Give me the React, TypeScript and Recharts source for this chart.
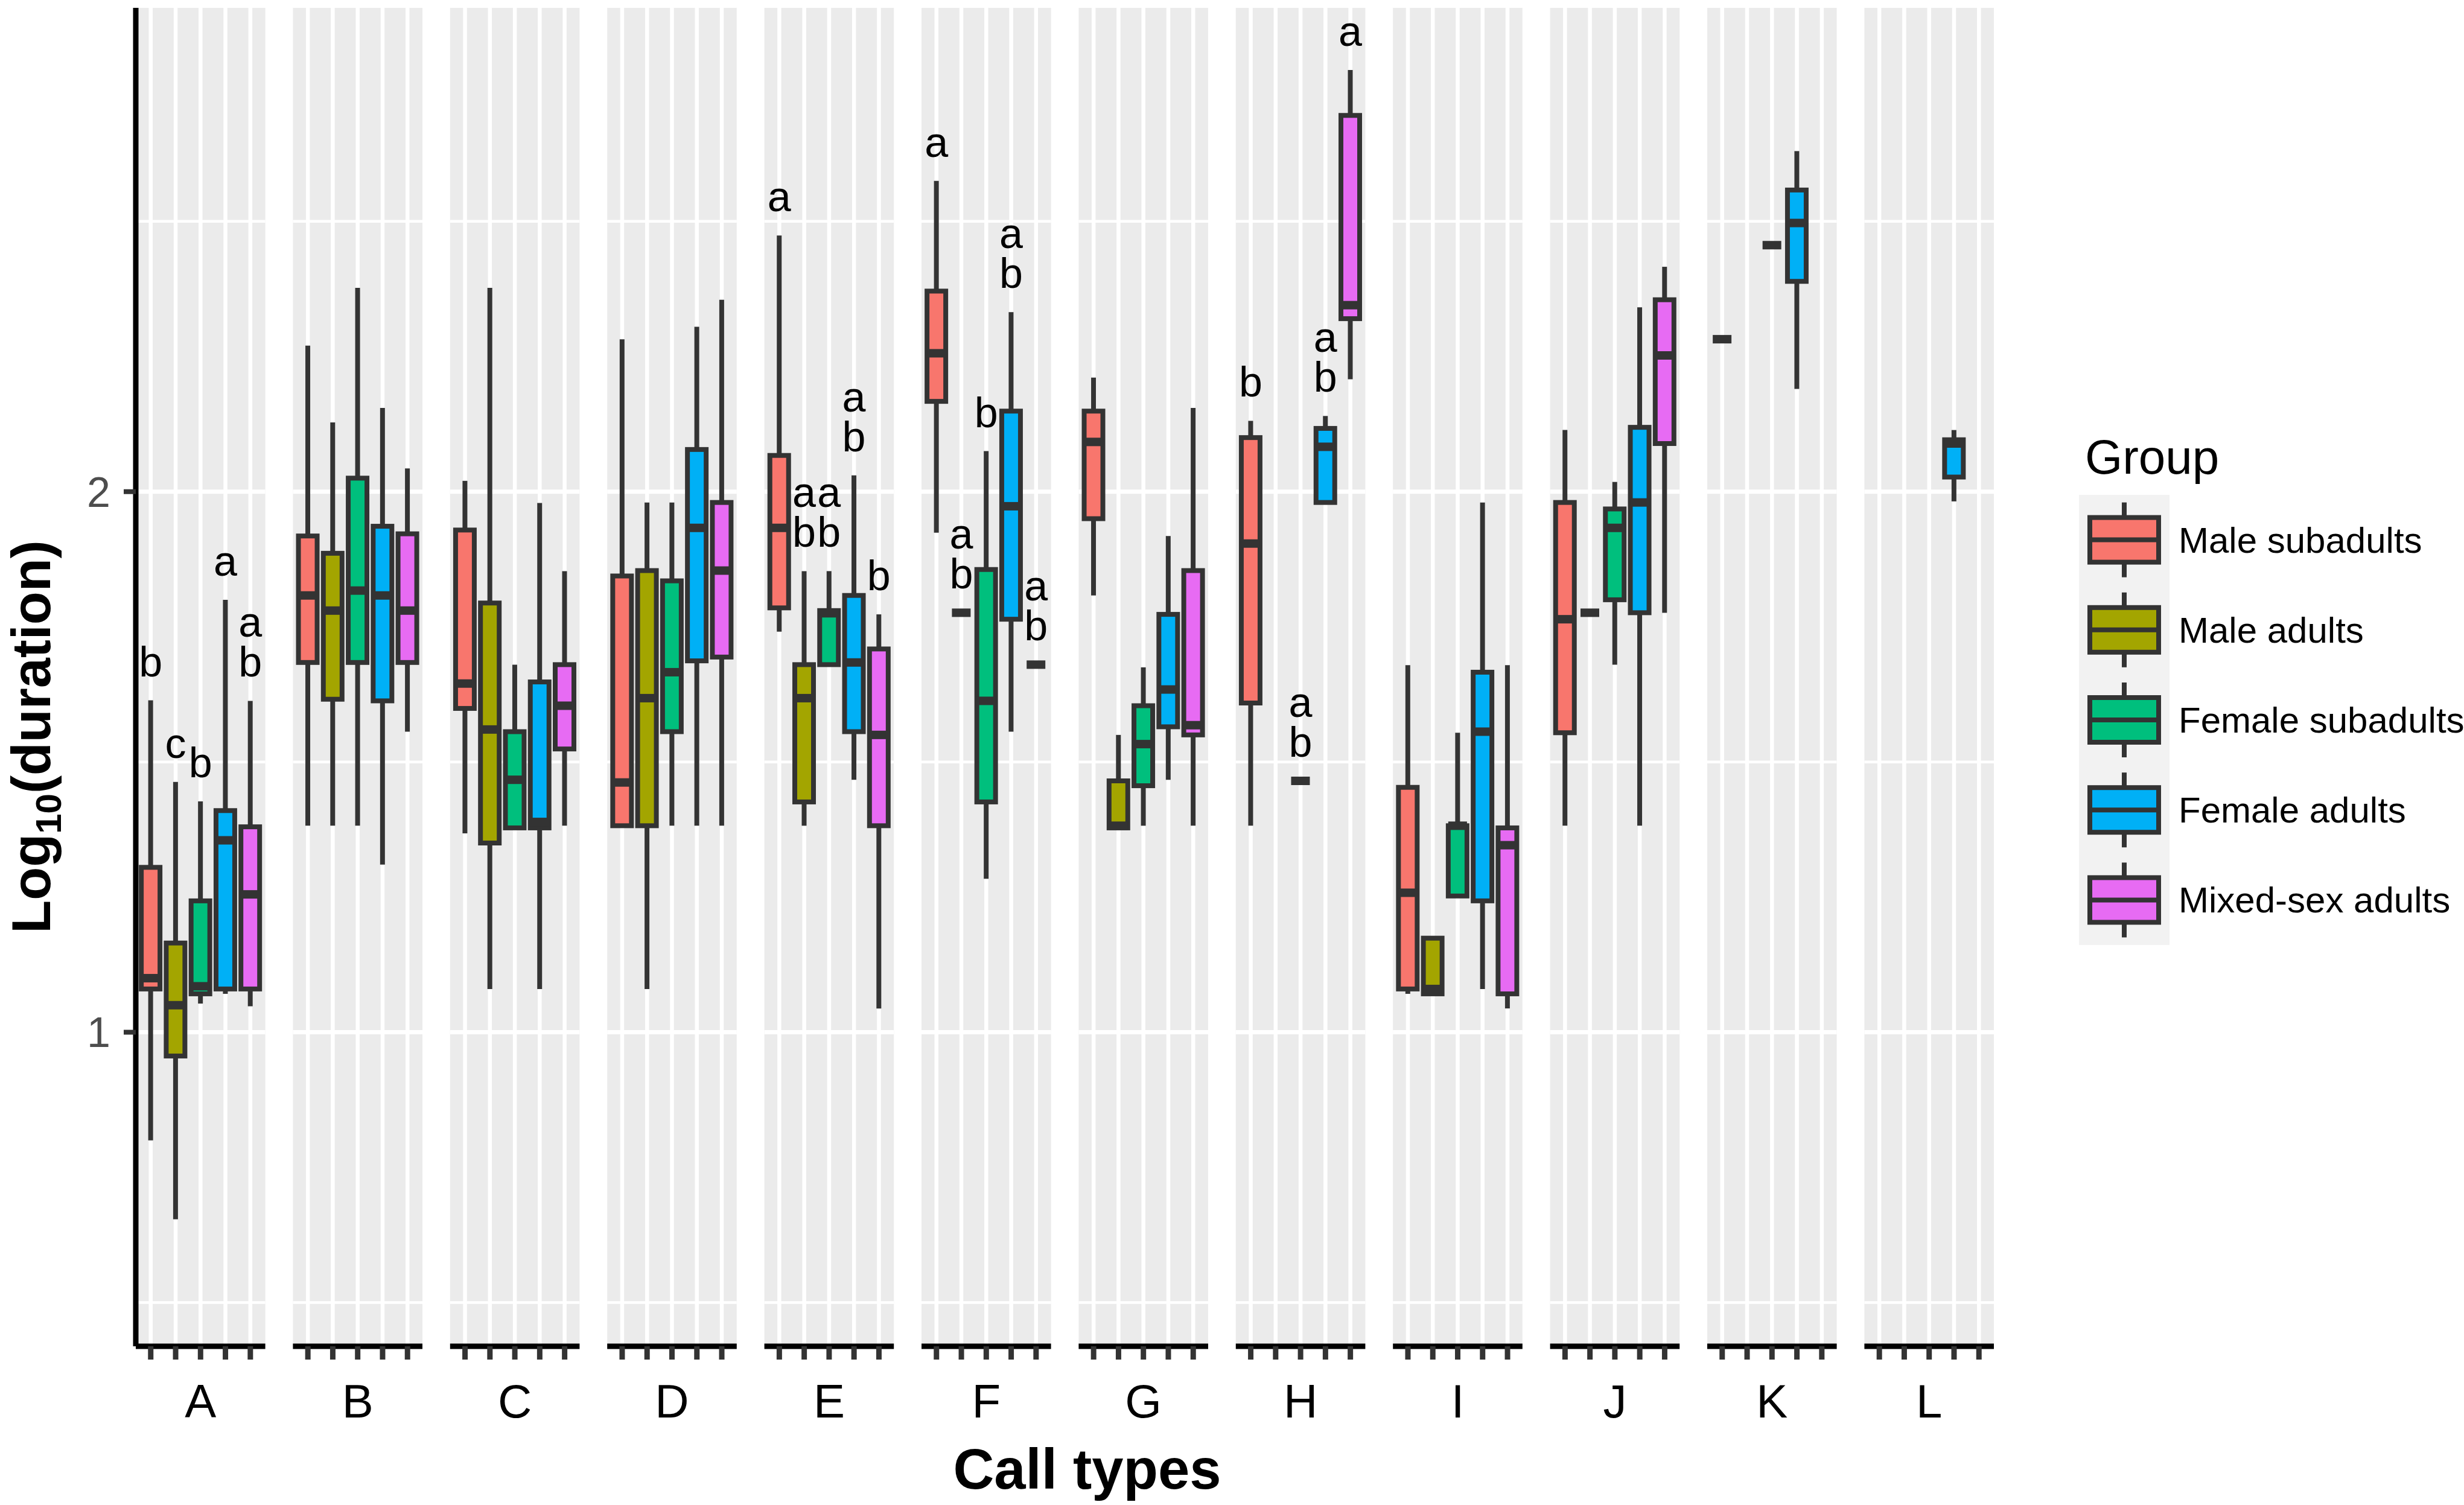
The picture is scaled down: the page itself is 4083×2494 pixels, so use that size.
import React from "react";
import { ComposedChart, Bar, XAxis, YAxis, ReferenceArea, ReferenceLine, LabelList } from "recharts";

const CALL_TYPES = ["A", "B", "C", "D", "E", "F", "G", "H", "I", "J", "K", "L"];
const GROUPS = ["Male subadults", "Male adults", "Female subadults", "Female adults", "Mixed-sex adults"];
const GROUP_COLORS = ["#F8766D", "#A3A500", "#00BF7D", "#00B0F6", "#E76BF3"];

// rows = call types, columns = groups (null: group not recorded for that call)
const WHISKER_LOW = [
  [0.8, 0.654, 1.053, 1.071, 1.048],
  [1.382, 1.382, 1.382, 1.31, 1.556],
  [1.368, 1.08, 1.378, 1.08, 1.382],
  [1.382, 1.08, 1.382, 1.382, 1.382],
  [1.741, 1.382, 1.68, 1.467, 1.044],
  [1.924, 1.776, 1.284, 1.556, 1.68],
  [1.808, 1.378, 1.382, 1.467, 1.382],
  [1.382, null, 1.465, 1.98, 2.208],
  [1.071, 1.071, 1.252, 1.08, 1.044],
  [1.382, 1.776, 1.68, 1.382, 1.776],
  [2.282, null, 2.456, 2.19, null],
  [null, null, null, 1.982, null],
];
const Q1 = [
  [1.08, 0.956, 1.071, 1.08, 1.08],
  [1.684, 1.616, 1.684, 1.613, 1.684],
  [1.599, 1.35, 1.378, 1.378, 1.524],
  [1.382, 1.382, 1.556, 1.687, 1.694],
  [1.785, 1.426, 1.68, 1.556, 1.382],
  [2.167, 1.776, 1.426, 1.764, 1.68],
  [1.95, 1.378, 1.456, 1.565, 1.55],
  [1.609, null, 1.465, 1.98, 2.32],
  [1.08, 1.071, 1.252, 1.243, 1.071],
  [1.554, 1.776, 1.8, 1.776, 2.089],
  [2.282, null, 2.456, 2.389, null],
  [null, null, null, 2.027, null],
];
const MEDIAN = [
  [1.1, 1.05, 1.085, 1.355, 1.255],
  [1.808, 1.78, 1.817, 1.808, 1.78],
  [1.645, 1.56, 1.467, 1.389, 1.604],
  [1.462, 1.618, 1.666, 1.933, 1.854],
  [1.933, 1.618, 1.775, 1.684, 1.55],
  [2.256, 1.776, 1.613, 1.973, 1.68],
  [2.092, 1.382, 1.533, 1.634, 1.568],
  [1.904, null, 1.465, 2.083, 2.345],
  [1.258, 1.08, 1.382, 1.556, 1.346],
  [1.764, 1.776, 1.933, 1.98, 2.252],
  [2.282, null, 2.456, 2.497, null],
  [null, null, null, 2.089, null],
];
const Q3 = [
  [1.305, 1.165, 1.243, 1.41, 1.38],
  [1.918, 1.886, 2.025, 1.936, 1.922],
  [1.929, 1.794, 1.556, 1.648, 1.68],
  [1.844, 1.854, 1.835, 2.078, 1.98],
  [2.067, 1.68, 1.78, 1.808, 1.709],
  [2.371, 1.776, 1.856, 2.149, 1.68],
  [2.149, 1.465, 1.604, 1.773, 1.854],
  [2.1, null, 1.465, 2.117, 2.696],
  [1.453, 1.174, 1.382, 1.666, 1.378],
  [1.98, 1.776, 1.968, 2.119, 2.355],
  [2.282, null, 2.456, 2.558, null],
  [null, null, null, 2.096, null],
];
const WHISKER_HIGH = [
  [1.614, 1.463, 1.427, 1.8, 1.613],
  [2.27, 2.128, 2.377, 2.155, 2.043],
  [2.02, 2.377, 1.68, 1.979, 1.853],
  [2.282, 1.98, 1.98, 2.305, 2.355],
  [2.474, 1.853, 1.853, 2.03, 1.773],
  [2.575, 1.776, 2.075, 2.332, 1.68],
  [2.211, 1.55, 1.675, 1.918, 2.155],
  [2.131, null, 1.465, 2.14, 2.78],
  [1.679, 1.174, 1.554, 1.98, 1.679],
  [2.114, 1.776, 2.018, 2.341, 2.416],
  [2.282, null, 2.456, 2.63, null],
  [null, null, null, 2.114, null],
];
// significance letters drawn above the whiskers
const LETTERS = [
  ["b", "c", "b", "a", "ab"],
  ["", "", "", "", ""],
  ["", "", "", "", ""],
  ["", "", "", "", ""],
  ["a", "ab", "ab", "ab", "b"],
  ["a", "ab", "b", "ab", "ab"],
  ["", "", "", "", ""],
  ["b", "", "ab", "ab", "a"],
  ["", "", "", "", ""],
  ["", "", "", "", ""],
  ["", "", "", "", ""],
  ["", "", "", "", ""],
];

const Y_DOMAIN = [0.419, 2.895];
const Y_TICKS = [1, 2];
const Y_MINOR = [0.5, 1.5, 2.5];

const FONT = "'Liberation Sans', Arial, Helvetica, sans-serif";
const STEP = 6.31; // distance between facet origins, in box slots
const X_DOMAIN = [-0.6, (CALL_TYPES.length - 1) * STEP + 4.6];
const INK = "#333333";

const rows = [];
CALL_TYPES.forEach((call, i) => {
  GROUPS.forEach((_, j) => {
    if (MEDIAN[i][j] == null) return;
    rows.push({
      pos: i * STEP + j,
      call,
      group: j,
      wl: WHISKER_LOW[i][j],
      q1: Q1[i][j],
      med: MEDIAN[i][j],
      q3: Q3[i][j],
      wh: WHISKER_HIGH[i][j],
      range: [WHISKER_LOW[i][j], WHISKER_HIGH[i][j]],
      sig: LETTERS[i][j] || undefined,
    });
  });
});
const slotTicks = CALL_TYPES.flatMap((_, i) => GROUPS.map((__, j) => i * STEP + j));

function BoxShape(props) {
  const { x, y, width, height } = props;
  const d = props.payload ?? props;
  if (d == null || d.wl == null) return null;
  const top = Math.min(y, y + height);
  const bottom = Math.max(y, y + height);
  const span = d.wh - d.wl;
  const px = (v) => (span > 0 ? bottom - ((v - d.wl) / span) * (bottom - top) : (top + bottom) / 2);
  const cx = x + width / 2;
  const yq3 = px(d.q3);
  const yq1 = px(d.q1);
  const ym = px(d.med);
  return (
    <g>
      <line x1={cx} x2={cx} y1={px(d.wh)} y2={yq3} stroke={INK} strokeWidth={8} />
      <line x1={cx} x2={cx} y1={yq1} y2={px(d.wl)} stroke={INK} strokeWidth={8} />
      <rect x={x} y={yq3} width={width} height={Math.max(0, yq1 - yq3)} fill={GROUP_COLORS[d.group]} stroke={INK} strokeWidth={8} />
      <line x1={x} x2={x + width} y1={ym} y2={ym} stroke={INK} strokeWidth={14} />
    </g>
  );
}

function SigLabel(props) {
  const { x, y, width, height, value } = props;
  if (!value) return null;
  const cx = x + width / 2;
  const top = Math.min(y, y + (height || 0));
  const chars = String(value).split("");
  return (
    <g>
      {chars.map((c, k) => (
        <text
          key={k}
          x={cx}
          y={top - 40 - (chars.length - 1 - k) * 66}
          textAnchor="middle"
          fontSize={70}
          fontFamily={FONT}
          fill="#000"
        >
          {c}
        </text>
      ))}
    </g>
  );
}

function FacetTick(props) {
  const { x, y, payload } = props;
  const v = payload.value;
  const i = Math.floor((v + 0.5) / STEP);
  const j = Math.round(v - i * STEP);
  if (j !== 2) return null;
  return (
    <text x={x} y={y} dy={96} textAnchor="middle" fontSize={78} fontFamily={FONT} fill="#000">
      {CALL_TYPES[i]}
    </text>
  );
}

function XTitle(props) {
  const vb = props.viewBox ?? { x: 225, y: 2231, width: 3079, height: 263 };
  return (
    <text x={vb.x + vb.width / 2 + 37} y={vb.y + 236} textAnchor="middle" fontSize={94} fontWeight="bold" fontFamily={FONT} fill="#000">
      Call types
    </text>
  );
}

function YTitle(props) {
  const vb = props.viewBox ?? { x: 0, y: 13, width: 225, height: 2218 };
  const cx = vb.x + 83;
  const cy = vb.y + vb.height / 2 + 99;
  return (
    <text transform={`rotate(-90, ${cx}, ${cy})`} x={cx} y={cy} textAnchor="middle" fontSize={90} fontWeight="bold" fontFamily={FONT} fill="#000">
      Log
      <tspan fontSize={60} dy={18}>10</tspan>
      <tspan dy={-18}>(duration)</tspan>
    </text>
  );
}

function GroupLegend() {
  const keyH = 149.2;
  return (
    <svg width={683} height={900} style={{ position: "absolute", left: 3400, top: 700 }}>
      <text x={55} y={85} fontSize={80} fontFamily={FONT} fill="#000">
        Group
      </text>
      <rect x={45} y={120} width={150} height={keyH * GROUPS.length} fill="#F2F2F2" />
      {GROUPS.map((g, i) => {
        const cy = 120 + keyH * (i + 0.5);
        return (
          <g key={g}>
            <line x1={120} x2={120} y1={cy - 62} y2={cy + 62} stroke={INK} strokeWidth={8} />
            <rect x={63} y={cy - 37} width={114} height={74} fill={GROUP_COLORS[i]} stroke={INK} strokeWidth={8} />
            <line x1={63} x2={177} y1={cy} y2={cy} stroke={INK} strokeWidth={8} />
            <text x={210} y={cy} dy="0.35em" fontSize={60} fontFamily={FONT} fill="#000">
              {g}
            </text>
          </g>
        );
      })}
    </svg>
  );
}

export default function App() {
  return (
    <div style={{ position: "absolute", left: 0, top: 0, width: 4083, height: 2494, background: "#fff", overflow: "hidden" }}>
      <ComposedChart width={4083} height={2494} data={rows} margin={{ top: 13, right: 779, bottom: 0, left: 0 }}>
        {CALL_TYPES.map((c, i) => (
          <ReferenceArea
            key={`bg-${c}`}
            x1={i * STEP - 0.6}
            x2={i * STEP + 4.6}
            y1={Y_DOMAIN[0]}
            y2={Y_DOMAIN[1]}
            fill="#EBEBEB"
            fillOpacity={1}
            stroke="none"
            ifOverflow="hidden"
            zIndex={-90}
          />
        ))}
        {CALL_TYPES.flatMap((c, i) =>
          [...Y_MINOR, ...Y_TICKS].map((v) => (
            <ReferenceLine
              key={`h-${c}-${v}`}
              segment={[
                { x: i * STEP - 0.6, y: v },
                { x: i * STEP + 4.6, y: v },
              ]}
              stroke="#FFFFFF"
              strokeWidth={Y_TICKS.includes(v) ? 7 : 4.5}
              ifOverflow="hidden"
              zIndex={-80}
            />
          ))
        )}
        {slotTicks.map((p) => (
          <ReferenceLine key={`v-${p}`} x={p} stroke="#FFFFFF" strokeWidth={6.5} ifOverflow="hidden" zIndex={-80} />
        ))}
        {CALL_TYPES.map((c, i) => (
          <ReferenceLine
            key={`ax-${c}`}
            segment={[
              { x: i * STEP - 0.6, y: Y_DOMAIN[0] },
              { x: i * STEP + 4.6, y: Y_DOMAIN[0] },
            ]}
            stroke="#000"
            strokeWidth={9}
            ifOverflow="visible"
            zIndex={500}
          />
        ))}
        <XAxis
          type="number"
          dataKey="pos"
          domain={X_DOMAIN}
          allowDataOverflow
          ticks={slotTicks}
          interval={0}
          height={263}
          axisLine={false}
          tickLine={{ stroke: INK, strokeWidth: 9 }}
          tickSize={22}
          tickMargin={0}
          tick={(p) => <FacetTick {...p} />}
          label={<XTitle />}
        />
        <YAxis
          type="number"
          domain={Y_DOMAIN}
          allowDataOverflow
          ticks={Y_TICKS}
          width={225}
          axisLine={{ stroke: "#000", strokeWidth: 9 }}
          tickLine={{ stroke: INK, strokeWidth: 8 }}
          tickSize={20}
          tickMargin={22}
          tick={{ fill: "#4D4D4D", fontSize: 70, fontFamily: FONT }}
          label={<YTitle />}
        />
        <Bar dataKey="range" barSize={31} shape={BoxShape} isAnimationActive={false}>
          <LabelList dataKey="sig" content={SigLabel} />
        </Bar>
      </ComposedChart>
      <GroupLegend />
    </div>
  );
}
